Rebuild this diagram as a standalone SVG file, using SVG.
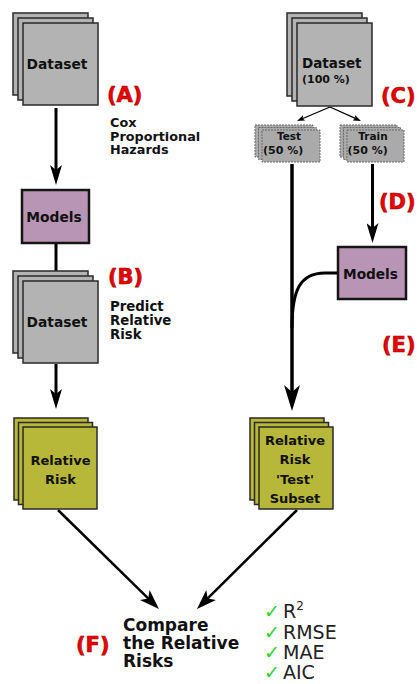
<svg xmlns="http://www.w3.org/2000/svg" width="417" height="684" viewBox="0 0 417 684">
<style>
.sheet{fill:#b3b3b3;stroke:#2a2a2a;stroke-width:1.5}
.rr{fill:#b7b739;stroke:#2a2a2a;stroke-width:1.5}
.mini{fill:#aaaaaa;stroke:#6a6a6a;stroke-width:1;stroke-dasharray:2 1}
.model{fill:#b894b5;stroke:#151515;stroke-width:2.5}
.t{font-family:"DejaVu Sans",sans-serif;font-weight:bold;fill:#111}
.red{font-family:"DejaVu Sans",sans-serif;font-weight:bold;font-size:21px;fill:#ee0000;stroke:#9a0000;stroke-width:0.6}
.m{font-family:"DejaVu Sans",sans-serif;font-size:19px;fill:#222}
.ck{font-family:"DejaVu Sans",sans-serif;font-weight:bold;font-size:19px;fill:#2ed12e}
.c{fill:none;stroke:#000;stroke-linecap:butt}
</style>
<defs>
<marker id="am" viewBox="0 0 20 12" refX="7" refY="6" markerWidth="20" markerHeight="12" markerUnits="userSpaceOnUse" orient="auto"><path d="M0,0 L20,6 L0,12 L5,6 Z" fill="#000"/></marker>
<marker id="ab" viewBox="0 0 26 16" refX="9" refY="8" markerWidth="26" markerHeight="16" markerUnits="userSpaceOnUse" orient="auto"><path d="M0,0 L26,8 L0,16 L7,8 Z" fill="#000"/></marker>
<marker id="ac" viewBox="0 0 20 14" refX="7" refY="7" markerWidth="20" markerHeight="14" markerUnits="userSpaceOnUse" orient="auto"><path d="M0,0 L20,7 L0,14 L5,7 Z" fill="#000"/></marker>
<marker id="as" viewBox="0 0 8 6" refX="3" refY="3" markerWidth="8" markerHeight="6" markerUnits="userSpaceOnUse" orient="auto"><path d="M0,0 L8,3 L0,6 L2,3 Z" fill="#000"/></marker>
</defs>

<g id="connectors">
<line class="c" x1="56" y1="108" x2="56" y2="172" stroke-width="3" marker-end="url(#am)"/>
<line class="c" x1="56" y1="243" x2="56" y2="272" stroke-width="3"/>
<line class="c" x1="56" y1="364" x2="56" y2="396" stroke-width="3" marker-end="url(#am)"/>
<line class="c" x1="330" y1="107" x2="301.6" y2="119" stroke-width="1.3" marker-end="url(#as)"/>
<line class="c" x1="330" y1="107" x2="356.4" y2="118.9" stroke-width="1.3" marker-end="url(#as)"/>
<line class="c" x1="292" y1="164" x2="292" y2="394" stroke-width="3.5" marker-end="url(#ab)"/>
<line class="c" x1="372.5" y1="164" x2="372.5" y2="230" stroke-width="3" marker-end="url(#am)"/>
<path class="c" d="M338,273 L325,273 C300,273 292,290 292,328" stroke-width="3"/>
<line class="c" x1="58" y1="510" x2="149.7" y2="599.9" stroke-width="2.5" marker-end="url(#ac)"/>
<line class="c" x1="297" y1="510" x2="206.2" y2="599.9" stroke-width="2.5" marker-end="url(#ac)"/>
</g>

<g id="dataset-a">
<rect class="sheet" x="13" y="13" width="75" height="82"/>
<rect class="sheet" x="18" y="18" width="75" height="82"/>
<rect class="sheet" x="23" y="23" width="75" height="82"/>
<text class="t" x="57" y="69" font-size="13.8" text-anchor="middle">Dataset</text>
</g>

<g id="label-a">
<text class="red" x="107" y="101.5">(A)</text>
<text class="t" x="110" y="127" font-size="12.8">Cox</text>
<text class="t" x="110" y="140.5" font-size="12.8">Proportional</text>
<text class="t" x="110" y="154" font-size="12.8">Hazards</text>
</g>

<g id="models-a">
<rect class="model" x="22" y="190" width="67" height="53"/>
<text class="t" x="54" y="222" font-size="13.8" text-anchor="middle">Models</text>
</g>

<g id="dataset-b">
<rect class="sheet" x="13" y="271" width="75" height="82"/>
<rect class="sheet" x="18" y="276" width="75" height="82"/>
<rect class="sheet" x="23" y="281" width="75" height="82"/>
<text class="t" x="57" y="327" font-size="13.8" text-anchor="middle">Dataset</text>
</g>

<g id="label-b">
<text class="red" x="108" y="284">(B)</text>
<text class="t" x="110" y="311" font-size="13.3">Predict</text>
<text class="t" x="110" y="325" font-size="13.3">Relative</text>
<text class="t" x="110" y="339" font-size="13.3">Risk</text>
</g>

<g id="relrisk-a">
<rect class="rr" x="14" y="418" width="74" height="82"/>
<rect class="rr" x="18.5" y="422.5" width="74" height="82"/>
<rect class="rr" x="23" y="427" width="74" height="82"/>
<text class="t" x="60.5" y="465" font-size="13" text-anchor="middle">Relative</text>
<text class="t" x="60.5" y="484" font-size="13" text-anchor="middle">Risk</text>
</g>

<g id="dataset-c">
<rect class="sheet" x="287" y="13" width="75" height="83"/>
<rect class="sheet" x="292" y="18" width="75" height="83"/>
<rect class="sheet" x="297" y="23" width="75" height="83"/>
<text class="t" x="302" y="68" font-size="13.5">Dataset</text>
<text class="t" x="302" y="83" font-size="11">(100 %)</text>
</g>

<g id="label-c"><text class="red" x="381" y="103">(C)</text></g>

<g id="test">
<rect class="mini" x="255" y="125" width="58" height="32"/>
<rect class="mini" x="258.5" y="127.5" width="58" height="32"/>
<rect class="mini" x="262" y="130" width="58" height="32"/>
<text class="t" x="289" y="139.5" font-size="10.5" text-anchor="middle">Test</text>
<text class="t" x="263" y="153.5" font-size="11">(50 %)</text>
</g>

<g id="train">
<rect class="mini" x="340" y="125" width="57" height="32"/>
<rect class="mini" x="343.5" y="127.5" width="57" height="32"/>
<rect class="mini" x="347" y="130" width="57" height="32"/>
<text class="t" x="373" y="139.5" font-size="10.5" text-anchor="middle">Train</text>
<text class="t" x="347.5" y="153.5" font-size="11">(50 %)</text>
</g>

<g id="label-d"><text class="red" x="379" y="209">(D)</text></g>

<g id="models-b">
<rect class="model" x="338" y="247" width="68" height="52"/>
<text class="t" x="370.5" y="279" font-size="13.7" text-anchor="middle">Models</text>
</g>

<g id="label-e"><text class="red" x="382" y="352">(E)</text></g>

<g id="relrisk-b">
<rect class="rr" x="250" y="418" width="74" height="82"/>
<rect class="rr" x="254.5" y="422.5" width="74" height="82"/>
<rect class="rr" x="259" y="427" width="74" height="82"/>
<text class="t" x="295" y="444.5" font-size="13" text-anchor="middle">Relative</text>
<text class="t" x="295" y="464" font-size="13" text-anchor="middle">Risk</text>
<text class="t" x="295" y="483.5" font-size="13" text-anchor="middle">'Test'</text>
<text class="t" x="295" y="503" font-size="13" text-anchor="middle">Subset</text>
</g>

<g id="compare">
<text class="red" x="76" y="652">(F)</text>
<text class="t" x="123" y="630.5" font-size="17">Compare</text>
<text class="t" x="123" y="648.5" font-size="17">the Relative</text>
<text class="t" x="123" y="666.5" font-size="17">Risks</text>
</g>

<g id="metrics">
<text class="ck" x="264" y="618">✓</text>
<text class="m" x="283" y="618">R<tspan font-size="12" dy="-8">2</tspan></text>
<text class="ck" x="264" y="638.5">✓</text>
<text class="m" x="283" y="638.5">RMSE</text>
<text class="ck" x="264" y="659">✓</text>
<text class="m" x="283" y="659">MAE</text>
<text class="ck" x="264" y="679">✓</text>
<text class="m" x="283" y="679">AIC</text>
</g>
</svg>
